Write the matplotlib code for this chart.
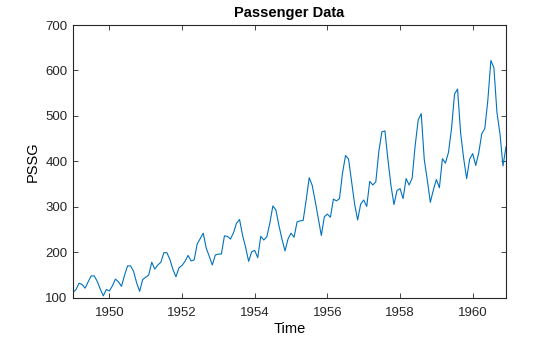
import matplotlib
matplotlib.use('Agg')
import matplotlib.pyplot as plt
import numpy as np

# monthly passengers (thousands), Jan 1949 - Dec 1960
passengers = [
    112, 118, 132, 129, 121, 135, 148, 148, 136, 119, 104, 118,
    115, 126, 141, 135, 125, 149, 170, 170, 158, 133, 114, 140,
    145, 150, 178, 163, 172, 178, 199, 199, 184, 162, 146, 166,
    171, 180, 193, 181, 183, 218, 230, 242, 209, 191, 172, 194,
    196, 196, 236, 235, 229, 243, 264, 272, 237, 211, 180, 201,
    204, 188, 235, 227, 234, 264, 302, 293, 259, 229, 203, 229,
    242, 233, 267, 269, 270, 315, 364, 347, 312, 274, 237, 278,
    284, 277, 317, 313, 318, 374, 413, 405, 355, 306, 271, 306,
    315, 301, 356, 348, 355, 422, 465, 467, 404, 347, 305, 336,
    340, 318, 362, 348, 363, 435, 491, 505, 404, 359, 310, 337,
    360, 342, 406, 396, 420, 472, 548, 559, 463, 407, 362, 405,
    417, 391, 419, 461, 472, 535, 622, 606, 508, 461, 390, 432,
]
start_year = 1949
xticks = [1950, 1952, 1954, 1956, 1958, 1960]
yticks = [100, 200, 300, 400, 500, 600, 700]

plt.rcParams['font.family'] = ['Liberation Sans', 'DejaVu Sans']

t = start_year + np.arange(len(passengers)) / 12.0

fig = plt.figure(figsize=(5.6, 3.37), dpi=100)
ax = fig.add_axes([0.1304, 0.1166, 0.7732, 0.8092])
ax.plot(t, passengers, color='#0072BD', linewidth=0.8)

ax.set_xlim(t[0], t[-1])
ax.set_ylim(100, 700)
ax.set_xticks(xticks)
ax.set_yticks(yticks)
ax.tick_params(direction='in', top=True, right=True, length=3.5, width=0.6,
               labelsize=9.5, colors='#262626')
ax.tick_params(axis='x', pad=7)
ax.tick_params(axis='y', pad=4)
for s in ax.spines.values():
    s.set_linewidth(0.8)
    s.set_color('#262626')

ax.set_title('Passenger Data', fontsize=10.5, fontweight='bold', pad=6)
ax.set_xlabel('Time', fontsize=10.5, labelpad=2)
ax.set_ylabel('PSSG', fontsize=10.5, labelpad=4)

plt.savefig('out.png')
